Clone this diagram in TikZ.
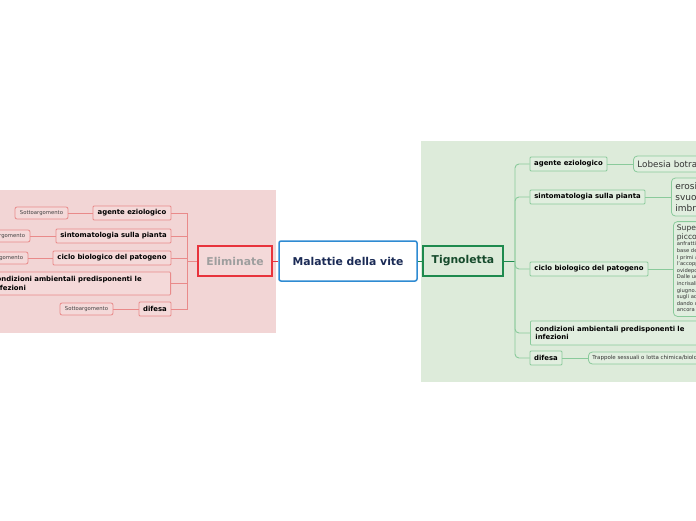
\documentclass[tikz,border=0pt]{standalone}
\usepackage{fontspec}
\setmainfont{DejaVu Sans}
\definecolor{bgL}{HTML}{F2D5D5}
\definecolor{bgR}{HTML}{DDEBDA}
\definecolor{boxL}{HTML}{F4D9D9}
\definecolor{boxR}{HTML}{E1EEDF}
\definecolor{lineL}{HTML}{E98A8A}
\definecolor{lineR}{HTML}{8ACA9B}
\definecolor{redM}{HTML}{E8333C}
\definecolor{greenM}{HTML}{1E8A4E}
\definecolor{blueM}{HTML}{2F8BD2}
\definecolor{navy}{HTML}{1A2A55}
\definecolor{darkgreen}{HTML}{164A2C}
\begin{document}
\begin{tikzpicture}[x=1pt,y=-1pt,
  central/.style={draw=blueM,line width=1.5pt,fill=white,rounded corners=2pt,minimum width=138pt,minimum height=40pt,inner sep=0pt,font=\fontsize{10.8}{12}\selectfont\bfseries,text=navy},
  mainL/.style={draw=redM,line width=1.5pt,fill=boxL,minimum width=74pt,minimum height=30pt,inner sep=0pt,font=\fontsize{10.8}{12}\selectfont\bfseries,text=black!38},
  mainR/.style={draw=greenM,line width=1.5pt,fill=bgR,minimum width=80pt,minimum height=30pt,inner sep=0pt,font=\fontsize{10.8}{12}\selectfont\bfseries,text=darkgreen},
  subL/.style={draw=lineL,line width=0.8pt,fill=boxL,rounded corners=1pt,minimum height=14pt,inner sep=0pt,font=\fontsize{6.9}{8.2}\selectfont\bfseries},
  subR/.style={draw=lineR,line width=0.8pt,fill=boxR,rounded corners=1pt,minimum height=14pt,inner sep=0pt,font=\fontsize{6.9}{8.2}\selectfont\bfseries},
  sotto/.style={draw=lineL,line width=0.8pt,fill=boxL,rounded corners=2pt,minimum width=53pt,minimum height=12pt,inner sep=0pt,font=\fontsize{5.3}{6}\selectfont,text=black!75},
  leafR/.style={draw=lineR,line width=0.8pt,fill=boxR,rounded corners=4pt,anchor=west,align=left,text=black!80},
  connL/.style={draw=lineL,line width=0.8pt},
  connR/.style={draw=lineR,line width=0.9pt,rounded corners=4pt},
]
\useasboundingbox (0,0) rectangle (696,520);
\clip (0,0) rectangle (696,520);
\fill[bgL] (0,190) rectangle (276,333);
\fill[bgR] (421,141) rectangle (696,382);

% main nodes
\node[central] (C) at (348,261) {Malattie della vite};
\node[mainL] (E) at (235,261) {Eliminate};
\node[mainR] (T) at (463,261) {Tignoletta};
\draw[redM,line width=1pt] (E.east) -- (C.west);
\draw[greenM,line width=1pt] (C.east) -- (T.west);

% left subtree
\node[subL,minimum width=78pt] (L1) at (132,213) {agente eziologico};
\node[subL,minimum width=115pt] (L2) at (113.5,236) {sintomatologia sulla pianta};
\node[subL,minimum width=118pt] (L3) at (112,258) {ciclo biologico del patogeno};
\node[subL,minimum width=183pt,minimum height=23pt,anchor=east,align=left,inner xsep=5pt,text width=173pt] (L4) at (171,283.5) {condizioni ambientali predisponenti le\\infezioni};
\node[subL,minimum width=32pt] (L5) at (155,309) {difesa};
\node[sotto] (S1) at (41.5,213) {Sottoargomento};
\node[sotto] (S2) at (3.5,236) {Sottoargomento};
\node[sotto] (S3) at (1.5,258) {Sottoargomento};
\node[sotto] (S5) at (86.5,309) {Sottoargomento};
\coordinate (lj) at (187,261);
\draw[connL] (E.west) -- (lj);
\draw[connL] (lj) |- (L1.east);
\draw[connL] (lj) |- (L2.east);
\draw[connL] (lj) |- (L3.east);
\draw[connL] (lj) |- (L4.east);
\draw[connL] (lj) |- (L5.east);
\draw[connL] (S1.east) -- (L1.west);
\draw[connL] (S2.east) -- (L2.west);
\draw[connL] (S3.east) -- (L3.west);
\draw[connL] (S5.east) -- (L5.west);

% right subtree
\node[subR,minimum width=77pt] (R1) at (568.5,164) {agente eziologico};
\node[subR,minimum width=115pt] (R2) at (587.5,197) {sintomatologia sulla pianta};
\node[subR,minimum width=118pt] (R3) at (589,269) {ciclo biologico del patogeno};
\node[subR,minimum width=183pt,minimum height=24pt,anchor=west,align=left,inner xsep=5pt,text width=173pt] (R4) at (530,333) {condizioni ambientali predisponenti le\\infezioni};
\node[subR,minimum width=32pt] (R5) at (546,358) {difesa};

\node[leafR,minimum height=16pt,inner sep=4pt,font=\fontsize{8.8}{9}\selectfont] (P1) at (633,164) {Lobesia botrana};
\node[leafR,minimum height=38pt,inner sep=4pt,font=\fontsize{9}{11.3}\selectfont] (P2) at (671,197) {erosione degli acini\\svuotamento\\imbrunimento};
\node[leafR,minimum height=94pt,inner sep=3.5pt,font=\fontsize{5.2}{6.6}\selectfont] (P3) at (673,269) {{\fontsize{7.6}{9}\selectfont Supera l'inverno come}\\{\fontsize{7.6}{8.5}\selectfont piccola crisalide negli}\\anfratti della corteccia o alla\\base dei ceppi.\\I primi adulti compaiono ad aprile;\\l'accoppiamento avviene al crepuscolo\\ovidepongono sui grappolini fiorali.\\Dalle uova nascono larve che\\incrisalidano a fine maggio-inizio\\giugno. La seconda generazione depone\\sugli acini verdi\\dando danni\\ancora maggiori};
\node[leafR,minimum height=12pt,inner sep=2pt,inner xsep=4pt,font=\fontsize{5.5}{6}\selectfont] (P5) at (588,358) {Trappole sessuali o lotta chimica/biologica};

\coordinate (rj) at (515,261);
\draw[greenM,line width=1pt] (T.east) -- (rj);
\draw[connR] (rj) |- (R1.west);
\draw[connR] (rj) |- (R2.west);
\draw[connR] (rj) |- (R3.west);
\draw[connR] (rj) |- (R4.west);
\draw[connR] (rj) |- (R5.west);
\draw[connR] (R1.east) -- (P1.west);
\draw[connR] (R2.east) -- (P2.west);
\draw[connR] (R3.east) -- (P3.west);
\draw[connR] (R5.east) -- (P5.west);
\end{tikzpicture}
\end{document}
